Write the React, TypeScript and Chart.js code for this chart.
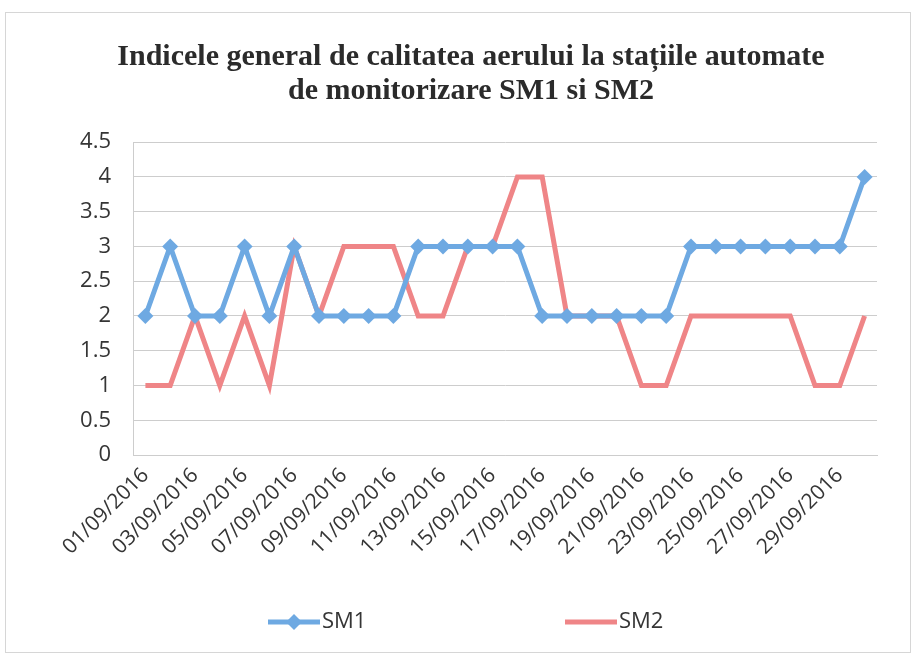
import React, { useEffect, useRef } from 'react';
import { Chart, registerables } from 'chart.js';

Chart.register(...registerables);

const dates = [
  '01/09/2016', '02/09/2016', '03/09/2016', '04/09/2016', '05/09/2016',
  '06/09/2016', '07/09/2016', '08/09/2016', '09/09/2016', '10/09/2016',
  '11/09/2016', '12/09/2016', '13/09/2016', '14/09/2016', '15/09/2016',
  '16/09/2016', '17/09/2016', '18/09/2016', '19/09/2016', '20/09/2016',
  '21/09/2016', '22/09/2016', '23/09/2016', '24/09/2016', '25/09/2016',
  '26/09/2016', '27/09/2016', '28/09/2016', '29/09/2016', '30/09/2016',
];

const sm1 = [2, 3, 2, 2, 3, 2, 3, 2, 2, 2, 2, 3, 3, 3, 3, 3, 2, 2, 2, 2, 2, 2, 3, 3, 3, 3, 3, 3, 3, 4];
const sm2 = [1, 1, 2, 1, 2, 1, 3, 2, 3, 3, 3, 2, 2, 3, 3, 4, 4, 2, 2, 2, 1, 1, 2, 2, 2, 2, 2, 1, 1, 2];

const seriesNames = ['SM1', 'SM2'];
const titleLines = [
  'Indicele general de calitatea aerului la stațiile automate',
  'de monitorizare SM1 si SM2',
];

const yMin = 0;
const yMax = 4.5;
const yStep = 0.5;

const BLUE = '#6ea9e2';
const RED = '#ef8587';
const TEXT = '#353535';
const GRID = '#cdcdcd';

const legendPlugin = {
  id: 'customLegend',
  afterDraw(chart: any) {
    const ctx = chart.ctx as CanvasRenderingContext2D;
    const y = 609;
    const starts = [262, 559];
    const swatch = 52;
    ctx.save();
    ctx.font = '22px "Open Sans"';
    ctx.textBaseline = 'middle';
    ctx.textAlign = 'left';
    chart.data.datasets.forEach((ds: any, i: number) => {
      const x0 = starts[i];
      ctx.strokeStyle = ds.borderColor;
      ctx.lineWidth = ds.borderWidth;
      ctx.beginPath();
      ctx.moveTo(x0, y);
      ctx.lineTo(x0 + swatch, y);
      ctx.stroke();
      if (ds.pointRadius > 0) {
        const r = ds.pointRadius;
        const cx = x0 + swatch / 2;
        ctx.fillStyle = ds.pointBackgroundColor;
        ctx.beginPath();
        ctx.moveTo(cx - r, y);
        ctx.lineTo(cx, y - r);
        ctx.lineTo(cx + r, y);
        ctx.lineTo(cx, y + r);
        ctx.closePath();
        ctx.fill();
      }
      ctx.fillStyle = TEXT;
      ctx.fillText(ds.label, x0 + swatch + 2, y);
    });
    ctx.restore();
  },
};

export default function App() {
  const ref = useRef<HTMLCanvasElement>(null);

  useEffect(() => {
    if (!ref.current) return;
    const chart = new Chart(ref.current, {
      type: 'line',
      data: {
        labels: dates,
        datasets: [
          {
            label: seriesNames[0],
            data: sm1,
            borderColor: BLUE,
            backgroundColor: BLUE,
            pointBackgroundColor: BLUE,
            pointBorderWidth: 0,
            borderWidth: 5,
            pointStyle: 'rectRot',
            pointRadius: 8,
            tension: 0,
          },
          {
            label: seriesNames[1],
            data: sm2,
            borderColor: RED,
            backgroundColor: RED,
            pointBackgroundColor: RED,
            borderWidth: 5,
            pointRadius: 0,
            tension: 0,
          },
        ],
      },
      options: {
        animation: false,
        responsive: false,
        devicePixelRatio: 1,
        layout: { padding: { left: 59, right: 33, top: 0, bottom: 0 } },
        plugins: {
          legend: { display: false },
          tooltip: { enabled: false },
          title: {
            display: true,
            text: titleLines,
            color: '#2b2b2b',
            font: { family: '"Liberation Serif", serif', size: 30, weight: 'bold', lineHeight: 1.12 },
            padding: { top: 27.5, bottom: 34.5 },
          },
        },
        scales: {
          x: {
            type: 'category',
            offset: true,
            grid: { display: false, drawTicks: false },
            border: { display: true, color: GRID },
            ticks: {
              autoSkip: false,
              maxRotation: 45,
              minRotation: 45,
              padding: 8,
              color: TEXT,
              font: { family: '"Open Sans"', size: 21 },
              callback: (_v: any, i: number) => (i % 2 === 0 ? dates[i] : ''),
            },
            afterFit: (s: any) => {
              s.height = 197;
            },
          },
          y: {
            min: yMin,
            max: yMax,
            grid: { color: GRID, drawTicks: false },
            border: { display: true, color: GRID },
            ticks: {
              stepSize: yStep,
              padding: 22,
              color: TEXT,
              font: { family: '"Open Sans"', size: 22 },
              callback: (v: any) => String(v),
            },
            afterFit: (s: any) => {
              s.width = 68;
            },
          },
        },
      },
      plugins: [legendPlugin],
    } as any);
    return () => chart.destroy();
  }, []);

  return (
    <div
      style={{
        position: 'absolute',
        left: 5,
        top: 12,
        width: 904,
        height: 639,
        border: '1px solid #d6d6d6',
        background: '#fff',
      }}
    >
      <canvas ref={ref} width={904} height={639} style={{ display: 'block' }} />
    </div>
  );
}
